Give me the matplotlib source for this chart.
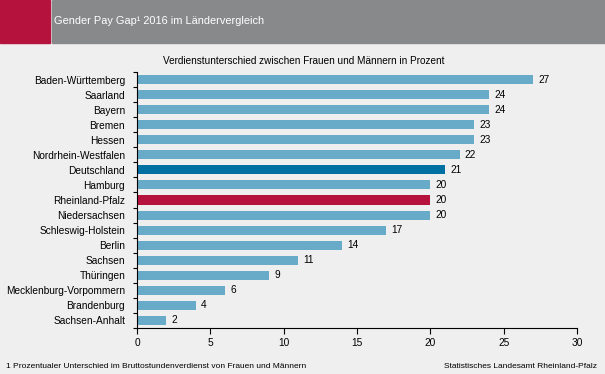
import matplotlib.pyplot as plt
import numpy as np

plt.rcParams["font.family"] = ["Liberation Sans", "DejaVu Sans"]

# ── Data ──────────────────────────────────────────────────────────────────────
laender = [
    "Baden-Württemberg", "Saarland", "Bayern", "Bremen", "Hessen",
    "Nordrhein-Westfalen", "Deutschland", "Hamburg", "Rheinland-Pfalz",
    "Niedersachsen", "Schleswig-Holstein", "Berlin", "Sachsen", "Thüringen",
    "Mecklenburg-Vorpommern", "Brandenburg", "Sachsen-Anhalt",
]
gap = [27, 24, 24, 23, 23, 22, 21, 20, 20, 20, 17, 14, 11, 9, 6, 4, 2]

BG = "#eeefee"
HEADER = "#88898b"
RED = "#b5123e"
BLUE = "#67abc9"
DARK = "#006fa2"

colors = []
for name in laender:
    if name == "Deutschland":
        colors.append(DARK)
    elif name == "Rheinland-Pfalz":
        colors.append(RED)
    else:
        colors.append(BLUE)

# ── Figure ────────────────────────────────────────────────────────────────────
W, H = 605, 374
fig = plt.figure(figsize=(W / 100, H / 100), dpi=100, facecolor=BG)

# header band
fig.patches.append(plt.Rectangle((0, 1 - 43 / H), 50 / W, 43 / H,
                                 transform=fig.transFigure, color=RED, zorder=0))
fig.patches.append(plt.Rectangle((52 / W, 1 - 43 / H), 1 - 52 / W, 43 / H,
                                 transform=fig.transFigure, color=HEADER, zorder=0))
fig.text(54 / W, 1 - 21 / H, "Gender Pay Gap¹ 2016 im Ländervergleich",
         color="white", fontsize=7.9, va="center", ha="left")

fig.text(304 / W, 1 - 61 / H, "Verdienstunterschied zwischen Frauen und Männern in Prozent",
         fontsize=7.2, va="center", ha="center")

ax = fig.add_axes([137 / W, 1 - 328 / H, 440 / W, 256 / H])
ax.set_facecolor(BG)

y = np.arange(len(laender))
ax.barh(y, gap, height=0.6, color=colors, zorder=2)
for yi, v in zip(y, gap):
    ax.text(v + 0.35, yi, str(v), va="center", ha="left", fontsize=7.3)

ax.set_xlim(0, 30)
ax.set_ylim(len(laender) - 0.5, -0.5)
ax.set_xticks(range(0, 31, 5))
ax.set_yticks(y)
ax.set_yticklabels(laender)
ax.set_yticks(np.arange(-0.5, len(laender), 1), minor=True)
ax.tick_params(axis="y", which="major", length=0, pad=8.5, labelsize=7.3)
ax.tick_params(axis="y", which="minor", length=3, width=0.8)
ax.tick_params(axis="x", length=4, width=0.8, labelsize=7.3, pad=3)

for s in ["top", "right"]:
    ax.spines[s].set_visible(False)
for s in ["left", "bottom"]:
    ax.spines[s].set_linewidth(0.8)

fig.text(6 / W, 1 - 366 / H,
         "1 Prozentualer Unterschied im Bruttostundenverdienst von Frauen und Männern",
         fontsize=6.0, va="center", ha="left")
fig.text(597 / W, 1 - 366 / H, "Statistisches Landesamt Rheinland-Pfalz",
         fontsize=6.0, va="center", ha="right")

fig.savefig("out.png", dpi=100, facecolor=BG)
